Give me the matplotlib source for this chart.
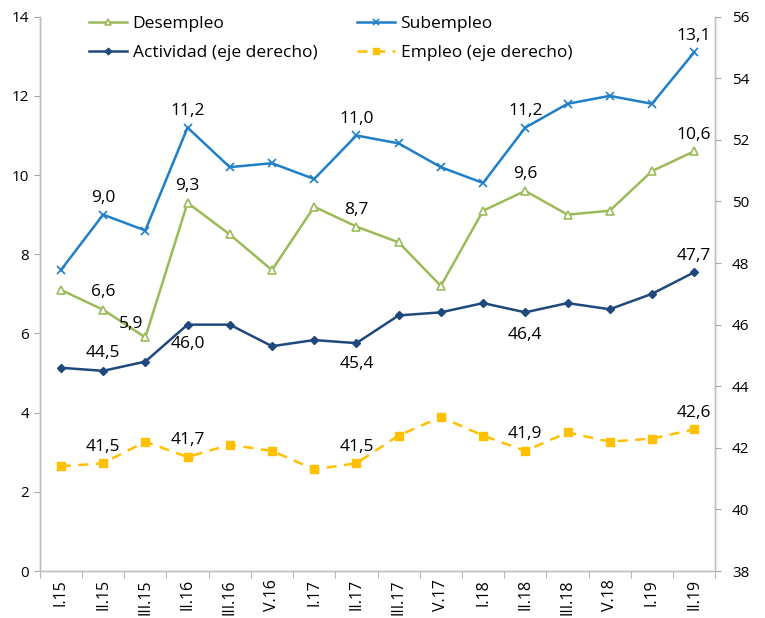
import matplotlib
matplotlib.use("Agg")
import matplotlib.pyplot as plt
import numpy as np

plt.rcParams['font.family'] = ['Open Sans', 'DejaVu Sans']

periods = ["I.15", "II.15", "III.15", "II.16", "III.16", "V.16", "I.17", "II.17",
           "III.17", "V.17", "I.18", "II.18", "III.18", "V.18", "I.19", "II.19"]
desempleo = [7.1, 6.6, 5.9, 9.3, 8.5, 7.6, 9.2, 8.7, 8.3, 7.2, 9.1, 9.6, 9.0, 9.1, 10.1, 10.6]
subempleo = [7.6, 9.0, 8.6, 11.2, 10.2, 10.3, 9.9, 11.0, 10.8, 10.2, 9.8, 11.2, 11.8, 12.0, 11.8, 13.1]
actividad = [44.6, 44.5, 44.8, 46.0, 46.0, 45.3, 45.5, 45.4, 46.3, 46.4, 46.7, 46.4, 46.7, 46.5, 47.0, 47.7]
empleo = [41.4, 41.5, 42.2, 41.7, 42.1, 41.9, 41.3, 41.5, 42.4, 43.0, 42.4, 41.9, 42.5, 42.2, 42.3, 42.6]

c_des = "#9BBB59"
c_sub = "#1F7FC8"
c_act = "#1F497D"
c_emp = "#FFC000"

fig = plt.figure(figsize=(7.65, 6.18), dpi=100)
ax = fig.add_axes([0.052, 0.076, 0.883, 0.897])
ax2 = ax.twinx()

x = np.arange(len(periods))
l1, = ax.plot(x, desempleo, color=c_des, lw=1.8, marker="^", ms=6, mfc="white", mec=c_des, mew=1.2, label="Desempleo")
l2, = ax.plot(x, subempleo, color=c_sub, lw=1.8, marker="x", ms=6, mew=1.2, label="Subempleo")
l3, = ax2.plot(x, actividad, color=c_act, lw=1.8, marker="D", ms=4.5, label="Actividad (eje derecho)")
l4, = ax2.plot(x, empleo, color=c_emp, lw=1.8, ls=(0, (4, 3)), marker="s", ms=6, label="Empleo (eje derecho)")

ax.set_xlim(-0.5, len(periods) - 0.5)
ax.set_ylim(0, 14)
ax2.set_ylim(38, 56)
ax.set_yticks(range(0, 15, 2))
ax2.set_yticks(range(38, 57, 2))

ax.set_xticks(x)
ax.set_xticklabels(periods, rotation=90, fontsize=11.5)
ax.set_xticks(np.arange(-0.5, len(periods), 1), minor=True)
ax.tick_params(axis="x", which="major", length=0, pad=6)
ax.tick_params(axis="x", which="minor", length=5, color="#A6A6A6", direction="out")
ax.tick_params(axis="y", length=4, color="#A6A6A6", labelsize=11)
ax2.tick_params(axis="y", length=4, color="#A6A6A6", labelsize=11, pad=8)

for a in (ax, ax2):
    a.spines["top"].set_visible(False)
    for s in ("left", "right", "bottom"):
        a.spines[s].set_color("#BFBFBF")
        a.spines[s].set_linewidth(1.0)

def lab(axis, i, vals, dy, dx=0, ha="center"):
    axis.annotate(f"{vals[i]:.1f}".replace(".", ","), (x[i], vals[i]),
                  xytext=(dx, dy), textcoords="offset points", ha=ha, va="center", fontsize=12.5)

for i in [1, 3, 7, 11, 15]:
    lab(ax, i, subempleo, 12)
lab(ax, 1, desempleo, 13)
lab(ax, 2, desempleo, 10, dx=-10)
for i in [3, 7, 11, 15]:
    lab(ax, i, desempleo, 12)
lab(ax2, 1, actividad, 13)
lab(ax2, 3, actividad, -14)
lab(ax2, 7, actividad, -15)
lab(ax2, 11, actividad, -16)
lab(ax2, 15, actividad, 12)
for i in [1, 3, 7, 11, 15]:
    lab(ax2, i, empleo, 12)

handles = [l1, l3, l2, l4]
ax.legend(handles=handles, loc="upper left", bbox_to_anchor=(0.05, 1.03), ncol=2,
          frameon=False, fontsize=12.5, handlelength=2.2, handletextpad=0.3,
          columnspacing=2.3, labelspacing=0.75, markerscale=0.75)

fig.savefig("out.png", dpi=100)
